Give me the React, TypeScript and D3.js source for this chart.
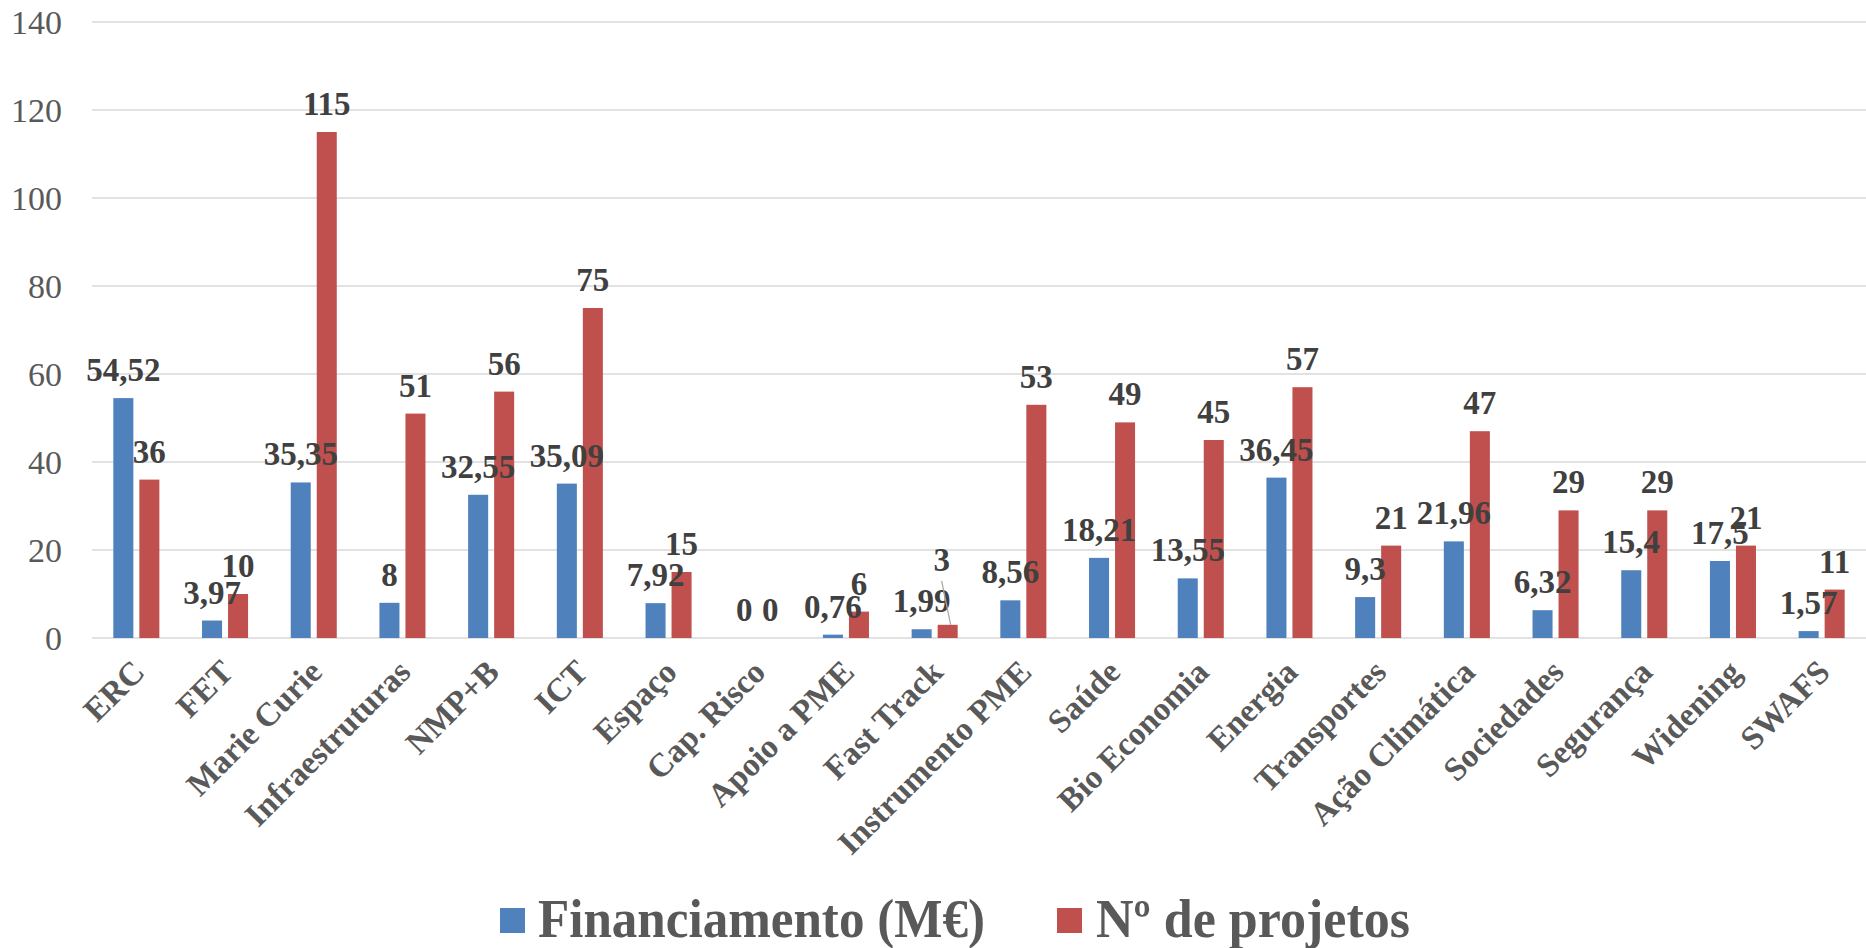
import React, { useEffect, useRef } from "react";
import * as d3 from "d3";

const categories = [
  "ERC",
  "FET",
  "Marie Curie",
  "Infraestruturas",
  "NMP+B",
  "ICT",
  "Espaço",
  "Cap. Risco",
  "Apoio a PME",
  "Fast Track",
  "Instrumento PME",
  "Saúde",
  "Bio Economia",
  "Energia",
  "Transportes",
  "Ação Climática",
  "Sociedades",
  "Segurança",
  "Widening",
  "SWAFS",
];

const financiamento = [
  54.52, 3.97, 35.35, 8, 32.55, 35.09, 7.92, 0, 0.76, 1.99, 8.56, 18.21, 13.55,
  36.45, 9.3, 21.96, 6.32, 15.4, 17.5, 1.57,
];

const projetos = [
  36, 10, 115, 51, 56, 75, 15, 0, 6, 3, 53, 49, 45, 57, 21, 47, 29, 29, 21, 11,
];

const seriesNames = ["Financiamento (M€)", "Nº de projetos"];
const seriesColors = ["#4F81BD", "#C0504D"];
const yTicks = [0, 20, 40, 60, 80, 100, 120, 140];

const fmt = (v: number) => String(v).replace(".", ",");

const drawChart = (svgEl: SVGSVGElement) => {
  const width = 1866;
  const height = 948;
  const margin = { top: 22, right: 0, bottom: 310, left: 92 };
  const font = "'Liberation Serif', 'DejaVu Serif', serif";

  const svg = d3.select(svgEl);
  svg.selectAll("*").remove();

  const x0 = d3
    .scaleBand()
    .domain(categories)
    .range([margin.left, width - margin.right]);

  const x1 = d3
    .scaleBand()
    .domain(seriesNames)
    .range([0, x0.bandwidth()])
    .paddingInner(0.23)
    .paddingOuter(0.82);

  const y = d3
    .scaleLinear()
    .domain([0, 140])
    .range([height - margin.bottom, margin.top]);

  // gridlines
  svg
    .append("g")
    .selectAll("line")
    .data(yTicks)
    .enter()
    .append("line")
    .attr("x1", margin.left)
    .attr("x2", width - margin.right)
    .attr("y1", (d) => y(d))
    .attr("y2", (d) => y(d))
    .attr("stroke", "#D9D9D9")
    .attr("stroke-width", 1.5);

  // y tick labels
  svg
    .append("g")
    .selectAll("text")
    .data(yTicks)
    .enter()
    .append("text")
    .attr("x", 62)
    .attr("y", (d) => y(d))
    .attr("dy", "0.35em")
    .attr("text-anchor", "end")
    .style("font-family", font)
    .style("font-size", "34px")
    .attr("fill", "#595959")
    .text((d) => d);

  const rows = categories.map((c, i) => ({
    cat: c,
    values: [financiamento[i], projetos[i]],
  }));

  const groups = svg
    .append("g")
    .selectAll("g")
    .data(rows)
    .enter()
    .append("g")
    .attr("transform", (d) => `translate(${x0(d.cat)},0)`);

  // bars
  groups
    .selectAll("rect")
    .data((d) => d.values.map((v, k) => ({ v, k })))
    .enter()
    .append("rect")
    .attr("x", (d) => x1(seriesNames[d.k]) as number)
    .attr("y", (d) => y(d.v))
    .attr("width", x1.bandwidth())
    .attr("height", (d) => y(0) - y(d.v))
    .attr("fill", (d) => seriesColors[d.k]);

  // value labels (Fast Track "3" was dragged up with a leader line)
  groups.each(function (row) {
    const g = d3.select(this);
    row.values.forEach((v, k) => {
      const cx = (x1(seriesNames[k]) as number) + x1.bandwidth() / 2;
      let dx = 0;
      let dy = 0;
      if (row.cat === "Fast Track" && k === 1) {
        dx = -6;
        dy = -37;
        g.append("line")
          .attr("x1", cx - 6)
          .attr("y1", y(v) - 44)
          .attr("x2", cx + 3)
          .attr("y2", y(v))
          .attr("stroke", "#A6A6A6")
          .attr("stroke-width", 1.2);
      }
      g.append("text")
        .attr("x", cx + dx)
        .attr("y", y(v) - 17 + dy)
        .attr("text-anchor", "middle")
        .style("font-family", font)
        .style("font-size", "33px")
        .style("font-weight", "bold")
        .attr("fill", "#404040")
        .text(fmt(v));
    });
  });

  // category labels
  svg
    .append("g")
    .selectAll("text")
    .data(categories)
    .enter()
    .append("text")
    .attr(
      "transform",
      (d) =>
        `translate(${(x0(d) as number) + x0.bandwidth() / 2 + 10},674) rotate(-45)`
    )
    .attr("text-anchor", "end")
    .style("font-family", font)
    .style("font-size", "33px")
    .style("font-weight", "bold")
    .attr("fill", "#595959")
    .text((d) => d);

  // legend
  const legend = [
    { sq: 500, tx: 538, len: 447 },
    { sq: 1057, tx: 1096, len: 314 },
  ];
  legend.forEach((l, k) => {
    svg
      .append("rect")
      .attr("x", l.sq)
      .attr("y", 908)
      .attr("width", 25)
      .attr("height", 25)
      .attr("fill", seriesColors[k]);
    svg
      .append("text")
      .attr("x", l.tx)
      .attr("y", 937)
      .attr("textLength", l.len)
      .attr("lengthAdjust", "spacingAndGlyphs")
      .style("font-family", font)
      .style("font-size", "54px")
      .style("font-weight", "bold")
      .attr("fill", "#595959")
      .text(seriesNames[k]);
  });
};

const App = () => {
  const svgRef = useRef<SVGSVGElement>(null);

  useEffect(() => {
    if (svgRef.current) drawChart(svgRef.current);
  }, []);

  return (
    <svg
      ref={svgRef}
      width="1866"
      height="948"
      style={{ position: "absolute", left: 0, top: 0, background: "#fff" }}
    ></svg>
  );
};

export default App;
